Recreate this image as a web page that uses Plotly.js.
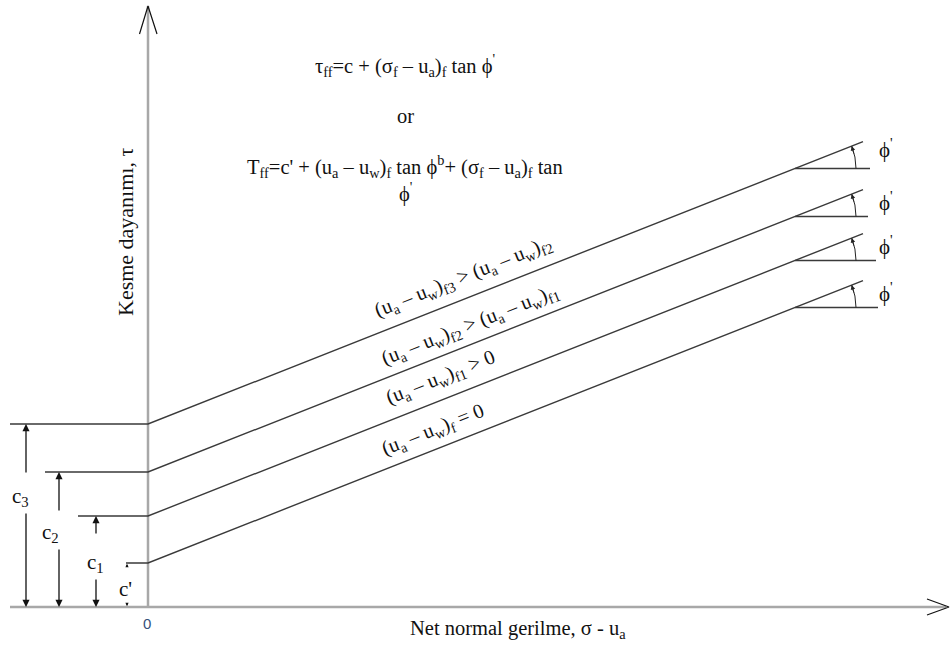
<!DOCTYPE html>
<html><head><meta charset="utf-8">
<script src="https://cdn.plot.ly/plotly-3.0.1.min.js"></script>
<style>html,body{margin:0;padding:0;background:#fff;}#chart{width:950px;height:646px;}</style>
</head><body><div id="chart"></div>
<script>
// ---- data (schematic units) ----
const curveNames = ["(u<sub>a</sub> – u<sub>w</sub>)<sub>f</sub> = 0",
                    "(u<sub>a</sub> – u<sub>w</sub>)<sub>f1</sub> > 0",
                    "(u<sub>a</sub> – u<sub>w</sub>)<sub>f2</sub> > (u<sub>a</sub> – u<sub>w</sub>)<sub>f1</sub>",
                    "(u<sub>a</sub> – u<sub>w</sub>)<sub>f3</sub> > (u<sub>a</sub> – u<sub>w</sub>)<sub>f2</sub>"];
const cohesionLabels = ["c'", "c<sub>1</sub>", "c<sub>2</sub>", "c<sub>3</sub>"];
const cohesion = [4.4, 9.1, 13.5, 18.3];      // intercepts on shear-strength axis
const tanPhi = 0.395;                          // slope tan φ'
const sigmaMax = 71.5;                         // end of envelopes on net normal stress axis
const sigmaPhiRef = 64.7;                      // where φ' angle is marked
const xTitle = "Net normal gerilme, σ - u<sub>a</sub>";
const yTitle = "Kesme dayanımı, τ";
const eq1 = "τ<sub>ff</sub>=c + (σ<sub>f</sub> – u<sub>a</sub>)<sub>f</sub> tan ϕ<sup>'</sup>";
const eqOr = "or";
const eq2 = "T<sub>ff</sub>=c' + (u<sub>a</sub> – u<sub>w</sub>)<sub>f</sub> tan ϕ<sup>b</sup>+ (σ<sub>f</sub> – u<sub>a</sub>)<sub>f</sub> tan";
const eq2b = "ϕ<sup>'</sup>";

// ---- layout constants ----
const leftStart = [-2.2, -7.0, -10.3, -13.8];
const refEnd = [73.0, 72.8, 72.0, 72.2];
const dimX = [-2.1, -5.2, -8.9, -12.2];
const serif = "Liberation Serif";
const lineCol = "#3a3a3a";

const traces = [];
const shapes = [];
const ann = [];

// axes
traces.push({x:[0,0], y:[0,60.1], mode:"lines", line:{color:"#a8a8a8", width:2.5}, hoverinfo:"skip"});
traces.push({x:[-13.8,79.8], y:[0,0], mode:"lines", line:{color:"#a8a8a8", width:2.5}, hoverinfo:"skip"});
traces.push({x:[-0.85,0,0.9], y:[57.3,60.1,57.3], mode:"lines", line:{color:"#111", width:1.2}, hoverinfo:"skip"});
traces.push({x:[77.9,80.1,77.9], y:[0.8,0,-0.8], mode:"lines", line:{color:"#111", width:1.2}, hoverinfo:"skip"});

// envelopes
cohesion.forEach((c,i)=>{
  traces.push({x:[leftStart[i],0,sigmaMax], y:[c,c,c+tanPhi*sigmaMax], mode:"lines",
    line:{color:lineCol, width:1.4}, hoverinfo:"skip"});
  const y0 = c + tanPhi*sigmaPhiRef;
  traces.push({x:[sigmaPhiRef, refEnd[i]], y:[y0,y0], mode:"lines", line:{color:lineCol,width:1.4}, hoverinfo:"skip"});
  const r = 6.1, th = Math.atan(tanPhi);
  const x1 = sigmaPhiRef + r, y1 = y0;
  const x2 = sigmaPhiRef + r*Math.cos(th), y2 = y0 + r*Math.sin(th);
  const rc = r/Math.cos(th/2);
  const cx = sigmaPhiRef + rc*Math.cos(th/2), cy = y0 + rc*Math.sin(th/2);
  shapes.push({type:"path", xref:"x", yref:"y", path:`M ${x1} ${y1} Q ${cx} ${cy} ${x2} ${y2}`,
    line:{color:"#222", width:1}});
  ann.push({x:x2, y:y2, ax:x2+0.25, ay:y2-0.9, xref:"x", yref:"y", axref:"x", ayref:"y",
    text:"", showarrow:true, arrowhead:2, arrowsize:0.9, arrowwidth:1, arrowcolor:"#222"});
  ann.push({x:sigmaPhiRef+9.1, y:y0+(i===3?2.0:1.5), xref:"x", yref:"y", text:"ϕ<sup>'</sup>", showarrow:false,
    font:{family:serif, size:21, color:"#111"}});
});

// line labels
const labelPos = [[28.5,17.7],[29.2,22.9],[32.2,28.2],[31.5,33.0]];
curveNames.forEach((t,i)=>{
  ann.push({x:labelPos[i][0], y:labelPos[i][1], xref:"x", yref:"y", text:t, showarrow:false,
    textangle:-21.6, font:{family:serif, size:20.5, color:"#111"}});
});

// dimension arrows
function arrow(x, yTail, yHead, size){
  ann.push({x:x, y:yHead, ax:x, ay:yTail, xref:"x", yref:"y", axref:"x", ayref:"y", text:"",
    showarrow:true, arrowhead:2, arrowsize:size||1.1, arrowwidth:1.3, arrowcolor:"#111"});
}
arrow(dimX[3], 13.3, cohesion[3]); arrow(dimX[3], 9.5, 0);
arrow(dimX[2], 9.5, cohesion[2]); arrow(dimX[2], 5.9, 0);
arrow(dimX[1], 7.2, cohesion[1]); arrow(dimX[1], 2.9, 0);
arrow(dimX[0], cohesion[0]-0.5, cohesion[0]-0.1, 0.5); arrow(dimX[0], 0.5, 0.1, 0.5);
const dimLabelPos = [[-2.3,1.8],[-5.3,4.4],[-9.8,7.4],[-12.8,11.0]];
cohesionLabels.forEach((t,i)=>{
  ann.push({x:dimLabelPos[i][0], y:dimLabelPos[i][1], xref:"x", yref:"y", text:t, showarrow:false,
    font:{family:serif, size:21, color:"#111"}});
});

// texts
const eqFont = {family:serif,size:20.5,color:"#111"};
ann.push({x:25.7, y:54.2, xref:"x", yref:"y", text:eq1, showarrow:false, font:eqFont});
ann.push({x:25.7, y:49.1, xref:"x", yref:"y", text:eqOr, showarrow:false, font:eqFont});
ann.push({x:25.7, y:44.1, xref:"x", yref:"y", text:eq2, showarrow:false, font:eqFont});
ann.push({x:25.7, y:41.5, xref:"x", yref:"y", text:eq2b, showarrow:false, font:eqFont});
ann.push({x:-0.1, y:-1.6, xref:"x", yref:"y", text:"0", showarrow:false, font:{family:"Liberation Sans", size:15, color:"#34507a"}});
ann.push({x:37.0, y:-2.2, xref:"x", yref:"y", text:xTitle, showarrow:false, font:{family:serif,size:20.5,color:"#111"}});
ann.push({x:-2.3, y:37.5, xref:"x", yref:"y", text:yTitle, showarrow:false, textangle:-90, font:{family:serif,size:22,color:"#111"}});

const layout = {
  width:950, height:646, margin:{l:0,r:0,t:0,b:0},
  paper_bgcolor:"#fff", plot_bgcolor:"#fff", showlegend:false,
  xaxis:{range:[-14.8,80.2], visible:false, fixedrange:true},
  yaxis:{range:[-3.9,60.7], visible:false, fixedrange:true},
  shapes:shapes, annotations:ann
};
Plotly.newPlot("chart", traces, layout, {displayModeBar:false, staticPlot:true});
</script></body></html>
